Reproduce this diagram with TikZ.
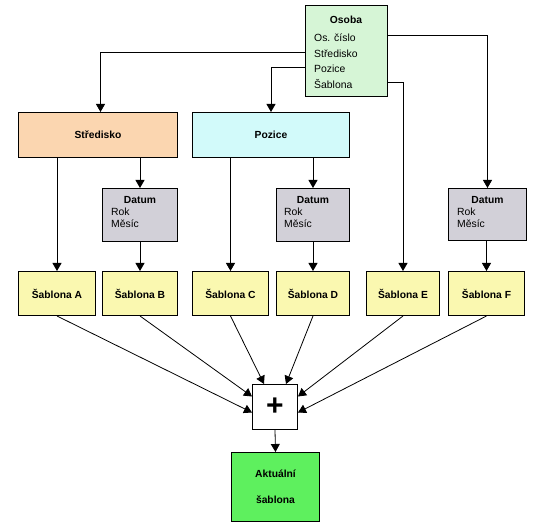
\documentclass[tikz,border=0pt]{standalone}
\usepackage{fontspec}
\setmainfont{Liberation Sans}
\usetikzlibrary{arrows.meta}
\definecolor{cOsoba}{HTML}{D6F5D6}
\definecolor{cStr}{HTML}{FBD6B0}
\definecolor{cPoz}{HTML}{D2FAFA}
\definecolor{cDat}{HTML}{D2D0D8}
\definecolor{cSab}{HTML}{FAF8B0}
\definecolor{cAkt}{HTML}{5EF05E}
\begin{document}
\begin{tikzpicture}[x=1pt,y=-1pt,
  box/.style={draw=black, line width=1pt, inner sep=0pt, anchor=north west,
              font=\fontsize{10.3}{12}\selectfont\bfseries},
  lbl/.style={font=\fontsize{10.3}{12}\selectfont\bfseries, inner sep=0pt, anchor=base},
  txt/.style={font=\fontsize{10.4}{12}\selectfont, inner sep=0pt, anchor=base west},
  arr/.style={-{Triangle[length=8pt,width=9pt]}, line width=0.8pt},
  ln/.style={line width=0.8pt},
]
\useasboundingbox[fill=white] (0,0) rectangle (542,529);

% Osoba
\node[box, fill=cOsoba, minimum width=82pt, minimum height=91pt] (osoba) at (305,5) {};
\node[lbl] (osobaT) at (346,24) {Osoba};
\node[txt] (o1) at (314,42) {Os. číslo};
\node[txt] (o2) at (314,57.5) {Středisko};
\node[txt] (o3) at (314,73) {Pozice};
\node[txt] (o4) at (314,88.5) {Šablona};

% second level
\node[box, fill=cStr, minimum width=159pt, minimum height=45pt] (str) at (18,112) {Středisko};
\node[box, fill=cPoz, minimum width=157pt, minimum height=45pt] (poz) at (192,112) {Pozice};

% Datum boxes
\node[box, fill=cDat, minimum width=75pt, minimum height=53pt] (datB) at (102,188) {};
\node[box, fill=cDat, minimum width=73pt, minimum height=53pt] (datD) at (276,188) {};
\node[box, fill=cDat, minimum width=78pt, minimum height=52pt] (datF) at (448,188) {};
\node[lbl] (datBt) at (datB.north |- 0,204) {Datum};
\node[txt] (datBr) at (111,216) {Rok};
\node[txt] (datBm) at (111,228) {Měsíc};
\node[lbl] (datDt) at (datD.north |- 0,204) {Datum};
\node[txt] (datDr) at (284,216) {Rok};
\node[txt] (datDm) at (284,228) {Měsíc};
\node[lbl] (datFt) at (datF.north |- 0,204) {Datum};
\node[txt] (datFr) at (457,216) {Rok};
\node[txt] (datFm) at (457,228) {Měsíc};

% Sablony
\node[box, fill=cSab, minimum width=77pt, minimum height=44pt] (sabA) at (18,271) {Šablona A};
\node[box, fill=cSab, minimum width=75pt, minimum height=44pt] (sabB) at (102,271) {Šablona B};
\node[box, fill=cSab, minimum width=76pt, minimum height=44pt] (sabC) at (192,271) {Šablona C};
\node[box, fill=cSab, minimum width=73pt, minimum height=44pt] (sabD) at (276,271) {Šablona D};
\node[box, fill=cSab, minimum width=73pt, minimum height=44pt] (sabE) at (366,271) {Šablona E};
\node[box, fill=cSab, minimum width=76pt, minimum height=44pt] (sabF) at (448,271) {Šablona F};

% plus and result
\node[box, fill=white, minimum width=45pt, minimum height=45pt,
      font=\fontsize{30}{30}\selectfont\bfseries] (plus) at (252,384) {+};
\node[box, fill=cAkt, minimum width=88pt, minimum height=69pt, align=center,
      font=\fontsize{10.3}{26}\selectfont\bfseries] (akt) at (231,452) {Aktuální\\šablona};

% connectors from Osoba
\draw[arr] ([yshift=15.5pt]osoba.east) -| (datF.north);
\draw[arr] ([yshift=-31.5pt]osoba.east) -| (sabE.north);
\draw[arr] ([yshift=-1pt]osoba.west) -| ([xshift=2.5pt]str.north);
\draw[arr] ([yshift=-16.5pt]osoba.west) -| (poz.north);

% level connectors
\draw[arr] (str.south -| sabA.north) -- (sabA.north);
\draw[arr] (str.south -| datB.north) -- (datB.north);
\draw[arr] (datB.south) -- (sabB.north);
\draw[arr] (poz.south -| sabC.north) -- (sabC.north);
\draw[arr] (poz.south -| datD.north) -- (datD.north);
\draw[arr] (datD.south) -- (sabD.north);
\draw[arr] (datF.south -| sabF.north) -- (sabF.north);

% to plus
\draw[arr] (sabA.south) -- ([yshift=-5.5pt]plus.west);
\draw[arr] (sabB.south) -- ([yshift=10.5pt]plus.west);
\draw[arr] (sabC.south) -- ([xshift=-11pt]plus.north);
\draw[arr] (sabD.south) -- ([xshift=11pt]plus.north);
\draw[arr] (sabE.south) -- ([yshift=10.5pt]plus.east);
\draw[arr] (sabF.south) -- ([yshift=-5.5pt]plus.east);
\draw[arr] (plus.south) -- (akt.north);
\end{tikzpicture}
\end{document}
